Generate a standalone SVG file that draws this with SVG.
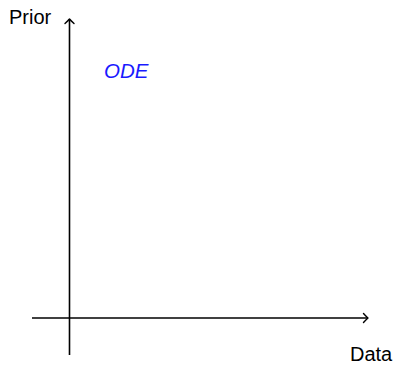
<svg xmlns="http://www.w3.org/2000/svg" width="397" height="366" viewBox="0 0 397 366">
<defs>
<style>
.axis{stroke:#000;stroke-width:1.6;fill:none}
.head{stroke:#000;stroke-width:1.4;fill:none;stroke-linecap:round;stroke-linejoin:round}
.lbl{font-family:"Liberation Sans",Arial,sans-serif;font-size:20px;fill:#000}
.ode{font-family:"Liberation Sans",Arial,sans-serif;font-size:20.5px;font-style:italic;fill:#1a1aff}
</style>
<marker id="arr" viewBox="-6 -6 8 12" markerWidth="8" markerHeight="12" refX="0" refY="0" orient="auto" markerUnits="userSpaceOnUse">
<path class="head" d="M-4.5,-4.5 Q-1.5,-1.2 0,0 Q-1.5,1.2 -4.5,4.5"/>
</marker>
</defs>
<g id="connectors">
<line id="y-axis" class="axis" x1="69.5" y1="355" x2="69.5" y2="19" marker-end="url(#arr)"/>
<line id="x-axis" class="axis" x1="32" y1="318" x2="368" y2="318" marker-end="url(#arr)"/>
</g>
<g id="prior-label"><text class="lbl" x="9" y="24">Prior</text></g>
<g id="data-label"><text class="lbl" x="350" y="361">Data</text></g>
<g id="ode-node"><text class="ode" x="104" y="78">ODE</text></g>
</svg>
